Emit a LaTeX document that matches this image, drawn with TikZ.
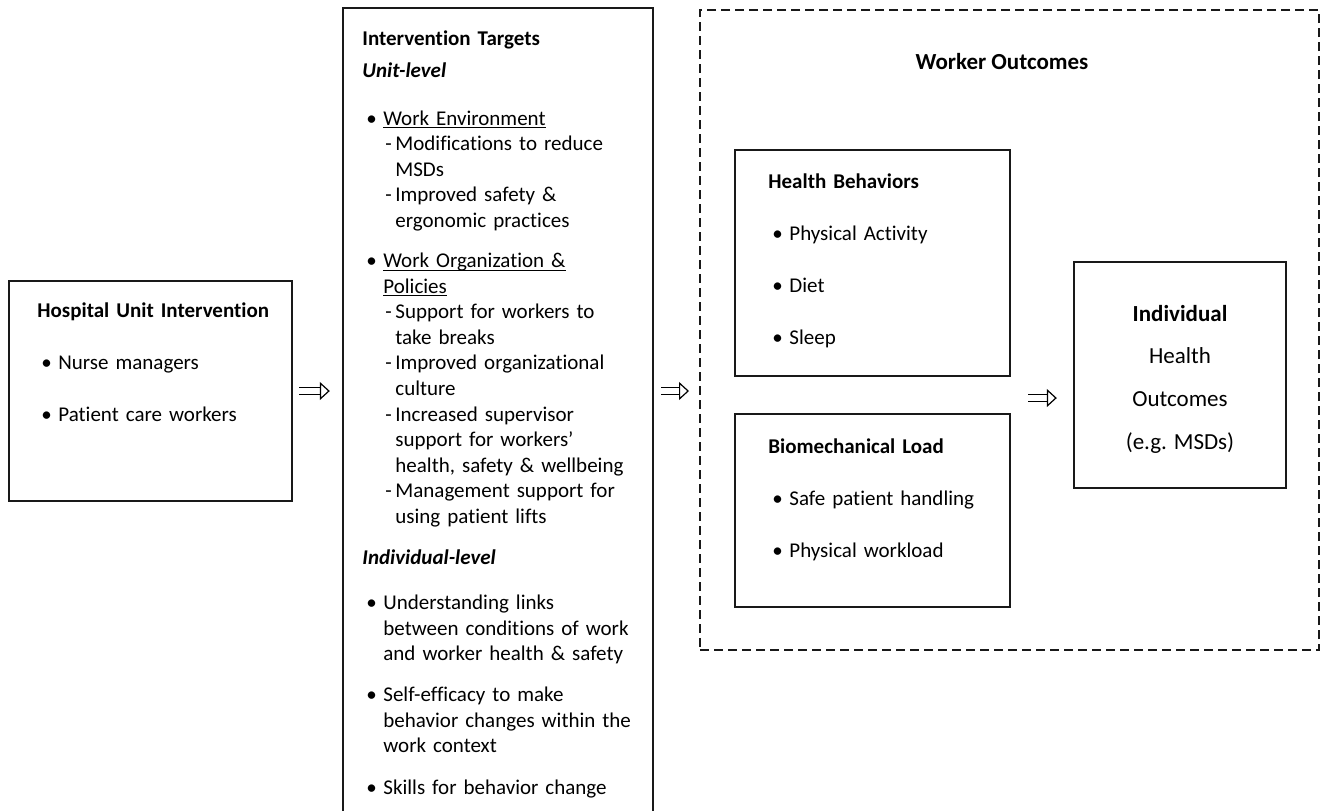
\documentclass[tikz,border=0pt]{standalone}
\usepackage{fontspec}
\setmainfont{Carlito}[Ligatures=NoCommon]
\usetikzlibrary{arrows.meta,positioning,calc}
\newlength\pxu
\setlength\pxu{0.5pt}
% one line of a box text: heading, bullet, dash item, continuations
\newcommand{\headln}[1]{\par\noindent\strut#1}
\newcommand{\bulln}[1]{\par\noindent\strut\hspace*{4\pxu}\makebox[17\pxu][l]{\textbullet}#1}
\newcommand{\bullcont}[1]{\par\noindent\strut\hspace*{21\pxu}#1}
\newcommand{\dashln}[1]{\par\noindent\strut\hspace*{23\pxu}\makebox[10\pxu][l]{-}#1}
\newcommand{\dashcont}[1]{\par\noindent\strut\hspace*{33\pxu}#1}
\newcommand{\skipln}[1]{\par\vspace{#1\pxu}}
\newcommand{\undl}[1]{\underline{\smash{#1}}}
\tikzset{
  >={Triangle[open,length=5pt,width=9pt]},
  flow/.style={->,line width=0.6pt,double,double distance=3.2pt},
  box/.style={draw=black!90,line width=1.2pt},
  outerbox/.style={draw=black!90,line width=1pt,dash pattern=on 4.5pt off 2.5pt},
  txt/.style={anchor=north west,inner sep=0pt,align=left,
    font=\fontsize{10.5}{12.8}\selectfont},
  bigtxt/.style={font=\fontsize{11.5}{21.3}\selectfont}
}

\begin{document}
\begin{tikzpicture}[x=0.5pt,y=-0.5pt]
  \useasboundingbox (0,0) rectangle (1326,810);
  % left: the intervention
  \node[box,minimum width=283\pxu,minimum height=220\pxu] (hosp) at (150.5,391) {};
  \node[txt,text width=250\pxu] (hospT) at (37,291) {\headln{\textbf{Hospital Unit Intervention}}\skipln{26.4}
    \bulln{Nurse managers}\skipln{26.4}\bulln{Patient care workers}};
  % middle: targets
  \node[box,minimum width=310\pxu,minimum height=807\pxu] (targets) at (498,411.5) {};
  \node[txt,text width=285\pxu] (targetsT) at (362,19) {\headln{\textbf{Intervention Targets}}\skipln{6.4}
    \headln{\textbf{\textit{Unit-level}}}\skipln{22.4}
    \bulln{\undl{Work Environment}}
    \dashln{Modifications to reduce}
    \dashcont{MSDs}
    \dashln{Improved safety \&}
    \dashcont{ergonomic practices}\skipln{14.4}
    \bulln{\undl{Work Organization \&}}
    \bullcont{\undl{Policies}}
    \dashln{Support for workers to}
    \dashcont{take breaks}
    \dashln{Improved organizational}
    \dashcont{culture}
    \dashln{Increased supervisor}
    \dashcont{support for workers’}
    \dashcont{health, safety \& wellbeing}
    \dashln{Management support for}
    \dashcont{using patient lifts}\skipln{15.4}
    \headln{\textbf{\textit{Individual-level}}}\skipln{19.4}
    \bulln{Understanding links}
    \bullcont{between conditions of work}
    \bullcont{and worker health \& safety}\skipln{15.4}
    \bulln{Self-efficacy to make}
    \bullcont{behavior changes within the}
    \bullcont{work context}\skipln{16.4}
    \bulln{Skills for behavior change}};
  % right: outcomes
  \node[outerbox,minimum width=619\pxu,minimum height=640\pxu] (worker) at (1009.5,330) {};
  \node[bigtxt,font=\fontsize{11.5}{14}\selectfont\bfseries] (workerT) at (1002,62) {Worker Outcomes};
  \node[box,minimum width=275\pxu,minimum height=226\pxu] (health) at (872.5,263) {};
  \node[txt,text width=220\pxu] (healthT) at (768,162) {\headln{\textbf{Health Behaviors}}\skipln{26.4}
    \bulln{Physical Activity}\skipln{26.4}\bulln{Diet}\skipln{26.4}\bulln{Sleep}};
  \node[box,minimum width=275\pxu,minimum height=193\pxu] (bio) at (872.5,510.5) {};
  \node[txt,text width=220\pxu] (bioT) at (768,427) {\headln{\textbf{Biomechanical Load}}\skipln{26.4}
    \bulln{Safe patient handling}\skipln{26.4}\bulln{Physical workload}};
  \node[box,minimum width=212\pxu,minimum height=226\pxu] (indiv) at (1180,375) {};
  \node[bigtxt,align=center] (indivT) at (1180,379)
    {\textbf{Individual}\\Health\\Outcomes\\(e.g. MSDs)};
  \coordinate (mid) at ($(health.south east)!0.5!(bio.north east)$);
  % arrows
  \draw[flow] ([xshift=6\pxu]hosp.east) -- ([xshift=-12\pxu]hosp.east -| targets.west);
  \draw[flow] ([xshift=7\pxu]hosp.east -| targets.east) -- ([xshift=-10\pxu]hosp.east -| worker.west);
  \draw[flow] ([xshift=17\pxu,yshift=-3\pxu]mid) -- ([xshift=-16\pxu,yshift=-3\pxu]mid -| indiv.west);
\end{tikzpicture}
\end{document}
